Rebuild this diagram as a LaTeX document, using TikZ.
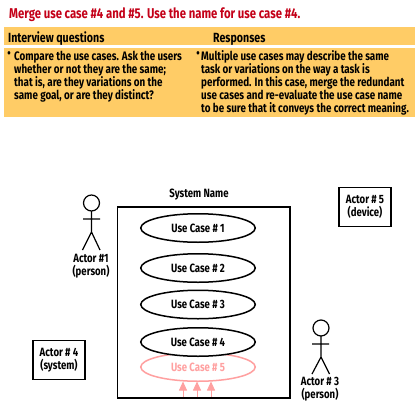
\documentclass[tikz,border=0pt]{standalone}
\usepackage{fontspec}
\setmainfont[FakeStretch=0.8]{Fira Sans}
\usetikzlibrary{shapes.geometric,arrows.meta}
\definecolor{band}{HTML}{FFCC66}
\definecolor{ttl}{HTML}{C40018}
\definecolor{ghost}{HTML}{FFA0A0}
\tikzset{
  bandbox/.style={fill=band,draw=none},
  ttltext/.style={anchor=base west,inner sep=0,font=\fontsize{14.2}{15}\selectfont\bfseries,text=ttl},
  headtext/.style={anchor=base west,inner sep=0,font=\fontsize{13.3}{14}\selectfont\bfseries},
  bodytext/.style={anchor=north west,inner sep=0,align=left,font=\fontsize{12.3}{13}\selectfont\bfseries},
  bullettext/.style={inner sep=0,font=\fontsize{12.3}{13}\selectfont\bfseries},
  usecase/.style={draw,line width=1.5pt,ellipse,minimum width=114.5pt,minimum height=28.5pt,inner sep=0,font=\fontsize{12}{12}\selectfont\bfseries},
  ghostcase/.style={usecase,draw=ghost,text=ghost},
  lbl/.style={inner sep=0,align=center,font=\fontsize{12}{13}\selectfont\bfseries},
  actorbox/.style={draw,line width=1.7pt,inner sep=0,align=center,font=\fontsize{12}{13}\selectfont\bfseries},
  actorline/.style={line width=1.2pt},
  ghostarrow/.style={draw=ghost,line width=0.8pt,-{Triangle[length=9pt,width=8pt]}}
}
\begin{document}
\begin{tikzpicture}[x=1pt,y=-1pt]
\useasboundingbox (0,0) rectangle (420,420);
\fill[white] (0,0) rectangle (420,420);
\fill[bandbox] (4,27) rectangle (415,45.5);
\fill[bandbox] (4,48) rectangle (415,117);
\node[ttltext] (title) at (9,19) {Merge use case \#4 and \#5. Use the name for use case \#4.};
\node[headtext] (hq) at (8,43) {Interview questions};
\node[headtext] (hr) at (213,42.5) {Responses};
\node[bullettext] (bq1) at (9,54.5) {•};
\node[bodytext] (bq) at (14,50.5) {Compare the use cases. Ask the users\\whether or not they are the same;\\that is, are they variations on the\\same goal, or are they distinct?};
\node[bullettext] (br1) at (198,54.5) {•};
\node[bodytext] (br) at (201,50.5) {Multiple use cases may describe the same\\task or variations on the way a task is\\performed. In this case, merge the redundant\\use cases and re-evaluate the use case name\\to be sure that it conveys the correct meaning.};
\node[lbl] (sysname) at (199,195) {System Name};
\draw[line width=1.7pt] (117.5,207) rectangle (290,398);
\node[ghostcase] (u5) at (198,367) {Use Case \# 5};
\node[usecase,fill=white] (u4) at (198,342) {Use Case \# 4};
\node[usecase] (u1) at (198,228) {Use Case \# 1};
\node[usecase] (u2) at (198,268) {Use Case \# 2};
\node[usecase] (u3) at (198,304.5) {Use Case \# 3};
\coordinate (a1) at (183,397); \coordinate (a2) at (197,397); \coordinate (a3) at (211,397);
\coordinate (t1) at (183,381.5); \coordinate (t2) at (197,381.5); \coordinate (t3) at (211,381.5);
\draw[ghostarrow] (a1) -- (t1);
\draw[ghostarrow] (a2) -- (t2);
\draw[ghostarrow] (a3) -- (t3);
% actor 1
\draw[actorline] (91.5,203) circle (8);
\draw[actorline] (91.5,211) -- (91.5,232) (83,219) -- (100,219) (82.5,250) -- (91.5,232) -- (100,250);
\node[lbl] (al1) at (91,266.5) {Actor \#1\\(person)};
% actor 3
\draw[actorline] (321,328) circle (8);
\draw[actorline] (321,336) -- (321,357) (312,344) -- (329,344) (312,374) -- (321,357) -- (329.5,374);
\node[lbl] (al3) at (320,389) {Actor \# 3\\(person)};
\node[actorbox,minimum width=52pt,minimum height=39pt] (al4) at (59,360) {Actor \# 4\\(system)};
\node[actorbox,minimum width=52pt,minimum height=39pt] (al5) at (365,207) {Actor \# 5\\(device)};
\end{tikzpicture}
\end{document}
